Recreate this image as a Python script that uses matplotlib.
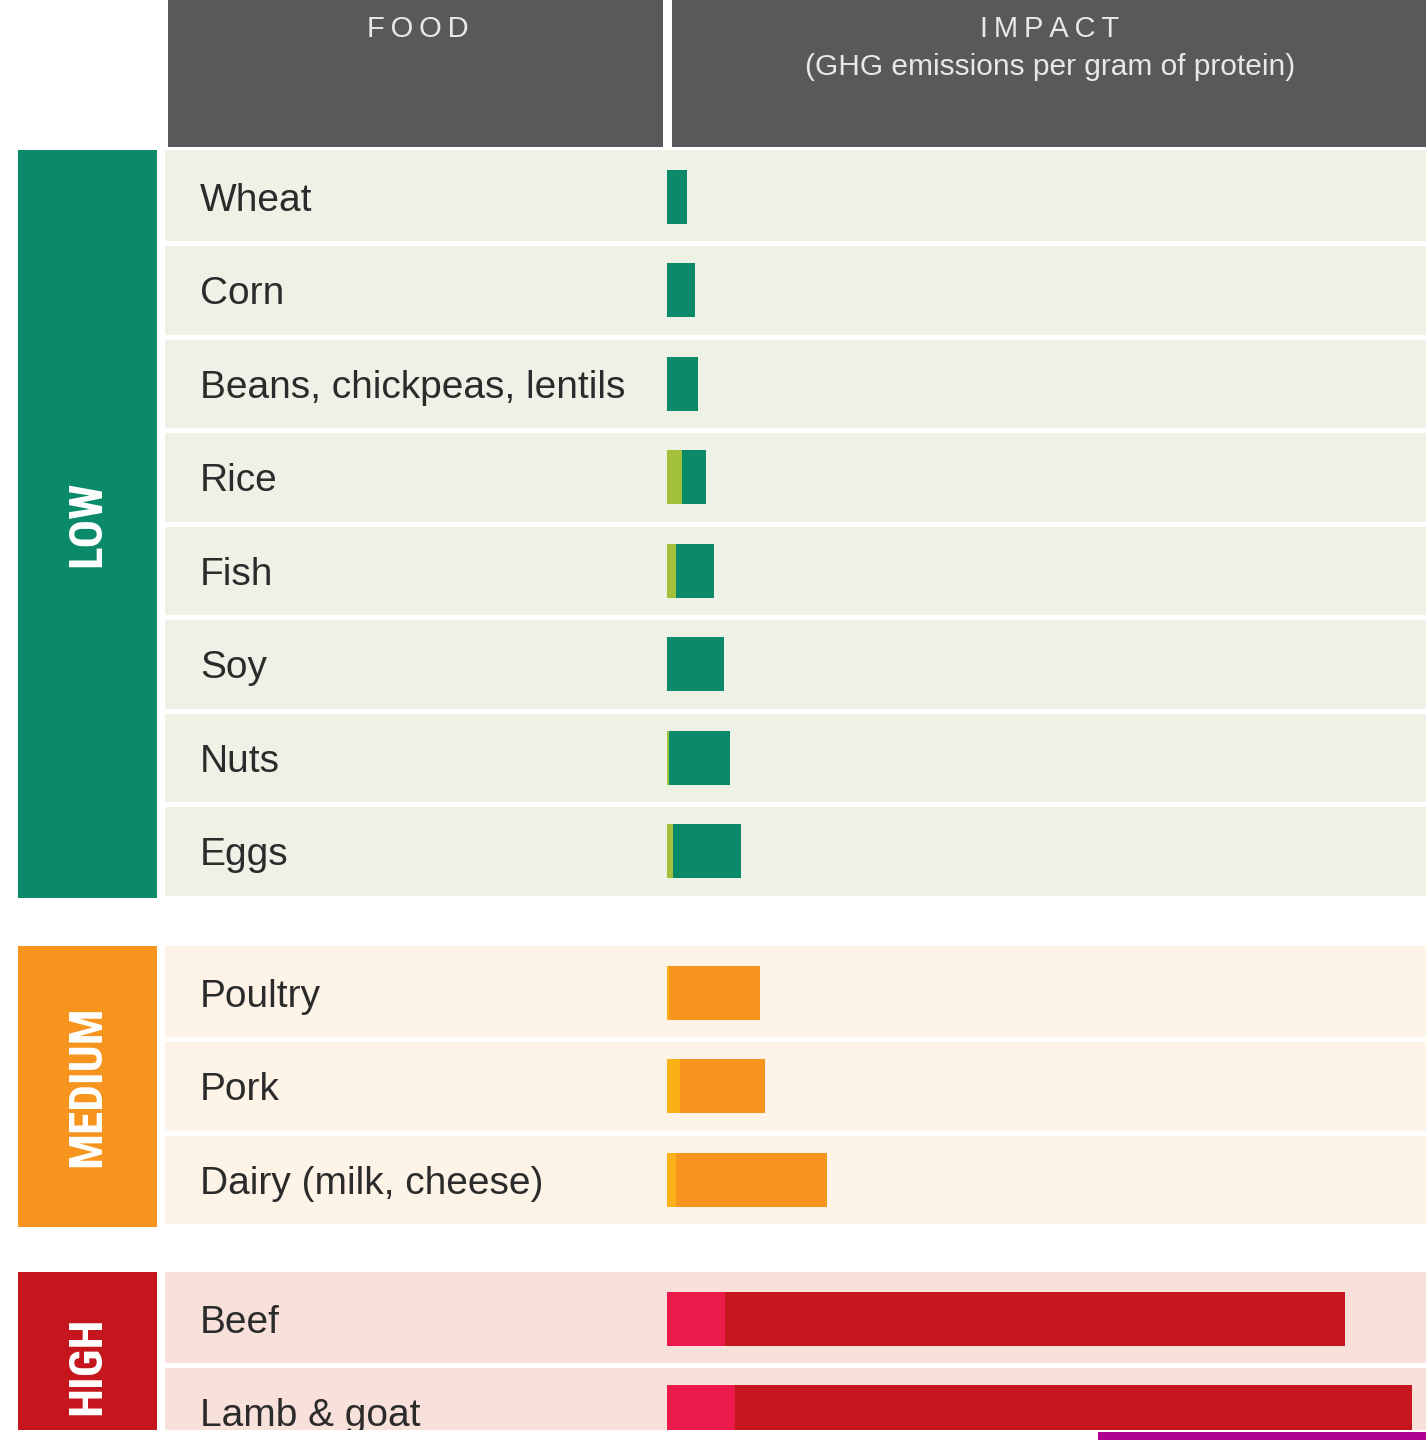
import matplotlib
matplotlib.use('Agg')
import matplotlib.pyplot as plt
from matplotlib.patches import Rectangle
from matplotlib import font_manager

# data (relative GHG emissions per gram of protein)
foods = ['Wheat', 'Corn', 'Beans, chickpeas, lentils', 'Rice', 'Fish', 'Soy',
         'Nuts', 'Eggs', 'Poultry', 'Pork', 'Dairy (milk, cheese)', 'Beef',
         'Lamb & goat']
groups = ['LOW', 'MEDIUM', 'HIGH']
group_sizes = [8, 3, 2]
# lighter left-hand segment and main segment of each bar
light_part = [0, 0, 0, 1.5, 0.9, 0, 0.2, 0.6, 0.2, 1.3, 0.9, 5.8, 6.8]
main_part = [2.0, 2.8, 3.1, 2.4, 3.8, 5.7, 6.1, 6.8, 9.1, 8.5, 15.1, 62.0, 67.7]

# styles
W, H = 1426, 1440
header_col = '#58595b'
group_col = {'LOW': '#0a8a69', 'MEDIUM': '#f7941d', 'HIGH': '#c4161c'}
light_col = {'LOW': '#a3c13a', 'MEDIUM': '#fbb116', 'HIGH': '#ec1a4b'}
band_col = {'LOW': '#eef2e6', 'MEDIUM': '#fdf3e6', 'HIGH': '#f8e1da'}
group_top = {'LOW': 150, 'MEDIUM': 946, 'HIGH': 1272}
row_h = 93.5

# pick a condensed bold font if one is installed
names = set(f.name for f in font_manager.fontManager.ttflist)
cond = None
for n in ['DejaVu Sans Condensed', 'Liberation Sans Narrow', 'Roboto Condensed',
          'Open Sans Condensed']:
    if n in names:
        cond = n
        break
label_font = 'Liberation Sans'

fig = plt.figure(figsize=(W / 100, H / 100), dpi=100)
ax = fig.add_axes([0, 0, 1, 1])
ax.set_xlim(0, W)
ax.set_ylim(H, 0)
ax.axis('off')

# header
ax.add_patch(Rectangle((168, 0), 495, 147, color=header_col, lw=0))
ax.add_patch(Rectangle((672, 0), W - 672, 147, color=header_col, lw=0))
ax.text(418, 29, 'F O O D'.replace(' ', '\u2009'), ha='center', va='center',
        color='#e8e8e8', fontsize=21, family=['Liberation Sans', 'DejaVu Sans'])
ax.text(1050, 29, 'I M P A C T'.replace(' ', '\u2009'), ha='center', va='center',
        color='#e8e8e8', fontsize=21, family=['Liberation Sans', 'DejaVu Sans'])
ax.text(1050, 67, '(GHG emissions per gram of protein)', ha='center', va='center',
        color='#e8e8e8', fontsize=21.5, family=label_font)

bx = fig.add_axes([667 / W, 0, (W - 667) / W, 1])
bx.set_xlim(0, (W - 667) / 10)
bx.set_ylim(H, 0)
bx.axis('off')
bx.patch.set_visible(False)

i = 0
for g, n in zip(groups, group_sizes):
    top = group_top[g]
    # group label box
    ax.add_patch(Rectangle((18, top), 139, n * row_h, color=group_col[g], lw=0))
    kw = dict(family=cond) if cond else dict(family=label_font)
    ax.text(87, top + n * row_h / 2, g, rotation=90, ha='center', va='center',
            color='white', fontsize=34 if cond else 30, fontweight='bold', **kw)
    ys = []
    for k in range(n):
        y0 = top + k * row_h
        ax.add_patch(Rectangle((165, y0 + (2.5 if k else 0)), W - 165,
                               row_h - (2.5 if k else 0) - 2.5,
                               color=band_col[g], lw=0))
        yc = y0 + row_h / 2
        ax.text(200, yc + 14, foods[i + k], ha='left', va='baseline',
                color='#2b2b2b', fontsize=28, family=label_font)
        ys.append(yc)
    lp = light_part[i:i + n]
    mp = main_part[i:i + n]
    bx.barh(ys, lp, height=54, color=light_col[g], lw=0)
    bx.barh(ys, mp, left=lp, height=54, color=group_col[g], lw=0)
    i += n

# bottom edge of the cropped picture, drawn over both axes
fig.add_artist(Rectangle((0, 1430), W, 10, color='white', lw=0, zorder=5,
                         transform=ax.transData))
fig.add_artist(Rectangle((1098, 1432), W - 1098, 8, color='#b0008f', lw=0,
                         zorder=6, transform=ax.transData))

fig.savefig('out.png', dpi=100)
